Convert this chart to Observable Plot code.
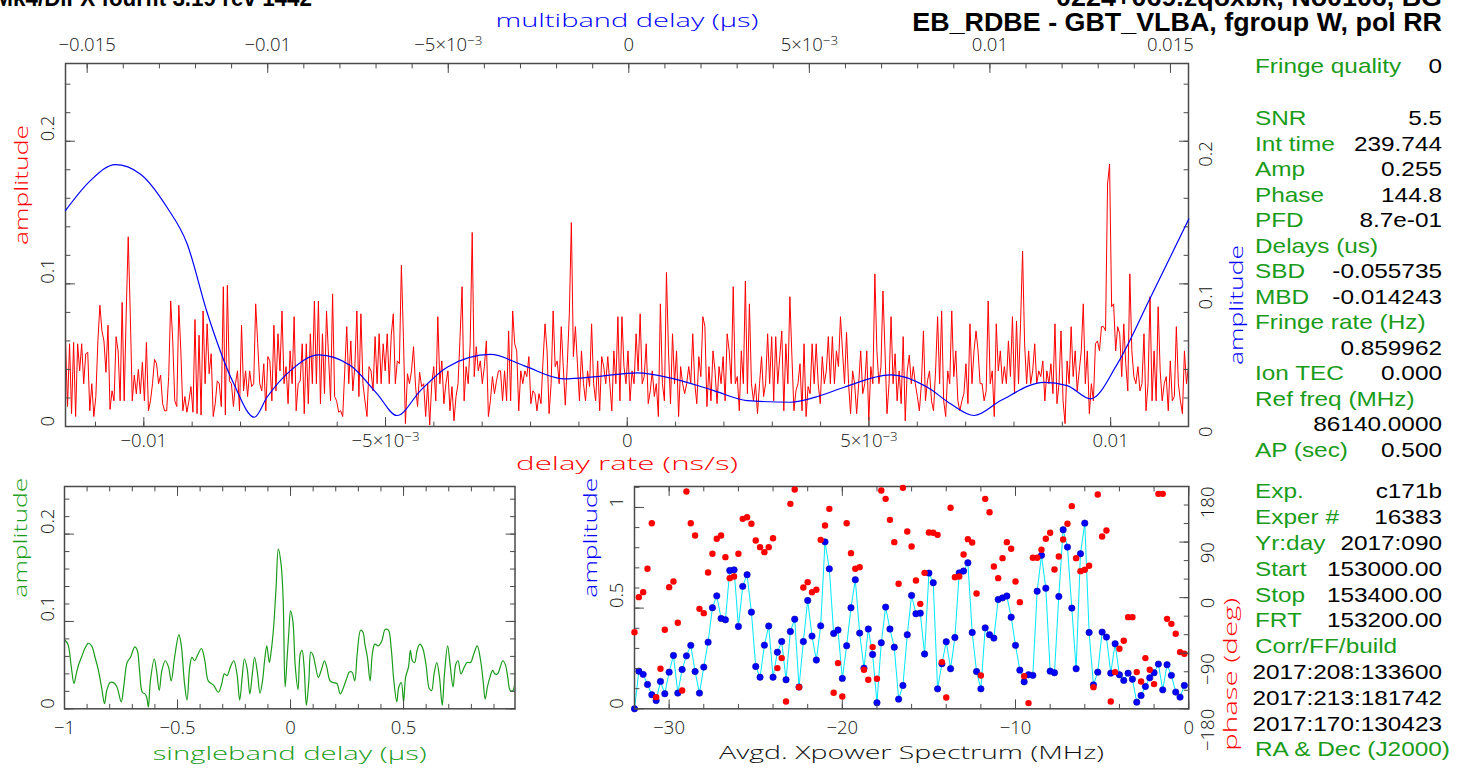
<!DOCTYPE html>
<html><head><meta charset="utf-8">
<script src="https://cdn.jsdelivr.net/npm/d3@7"></script>
<script src="https://cdn.jsdelivr.net/npm/@observablehq/plot@0.6"></script>
<style>
html,body{margin:0;padding:0;background:#fff;}
#wrap{position:relative;width:1462px;height:769px;overflow:hidden;background:#fff;}
</style></head><body><div id="wrap"></div>
<script>
// ---------------- DATA ----------------
// delay-rate spectrum amplitude (red), evenly sampled across the delay-rate window
const rateDomain = [-0.01162, 0.01161];
const redAmp = [
.060,.014,.058,.009,.059,.007,.058,.039,.058,.030,.051,.052,.011,.030,.007,.021,.060,.085,.067,.060,
.038,.071,.012,.025,.018,.063,.053,.018,.087,.018,.079,.133,.079,.018,.036,.023,.040,.023,.045,.018,
.059,.011,.018,.030,.047,.044,.030,.036,.016,.011,.011,.035,.088,.060,.018,.014,.085,.053,.011,.021,
.010,.018,.028,.010,.075,.009,.064,.008,.081,.030,.072,.037,.051,.007,.016,.032,.030,.014,.098,.008,
.099,.032,.030,.014,.030,.039,.011,.071,.025,.039,.021,.039,.028,.030,.086,.058,.030,.025,.044,.011,
.049,.046,.018,.071,.025,.065,.039,.081,.030,.042,.016,.053,.030,.077,.011,.030,.032,.058,.009,.058,
.016,.065,.030,.088,.030,.088,.016,.065,.023,.081,.049,.018,.093,.021,.018,.010,.011,.007,.039,.070,
.030,.060,.025,.042,.081,.021,.079,.030,.018,.007,.042,.039,.025,.063,.030,.065,.030,.058,.039,.065,
.030,.064,.079,.030,.046,.044,.113,.063,.002,.037,.030,.039,.056,.028,.014,.038,.028,.030,.007,.030,
.001,.030,.042,.018,.077,.030,.046,.016,.030,.039,.011,.028,.004,.021,.030,.063,.098,.018,.042,.030,
.058,.136,.035,.056,.039,.046,.030,.042,.060,.007,.018,.035,.023,.032,.039,.039,.018,.039,.018,.067,
.018,.081,.058,.053,.011,.039,.030,.039,.035,.049,.016,.025,.023,.011,.023,.016,.046,.072,.053,.009,
.030,.081,.042,.046,.030,.070,.042,.015,.044,.079,.143,.049,.070,.044,.018,.053,.030,.018,.039,.028,
.072,.030,.018,.046,.011,.049,.042,.030,.049,.030,.011,.053,.030,.077,.018,.077,.042,.030,.053,.018,
.039,.030,.065,.039,.079,.030,.035,.058,.016,.025,.039,.021,.030,.007,.086,.030,.018,.108,.053,.016,
.065,.030,.053,.007,.042,.030,.023,.030,.042,.030,.065,.030,.016,.049,.035,.077,.070,.014,.042,.018,
.053,.039,.016,.042,.030,.049,.018,.065,.053,.030,.098,.030,.035,.011,.053,.030,.102,.023,.086,.030,
.018,.030,.009,.030,.049,.021,.030,.065,.030,.063,.018,.063,.030,.049,.067,.011,.058,.030,.091,.049,
.011,.025,.030,.044,.011,.058,.007,.028,.023,.058,.030,.058,
.030,.016,.049,.030,.039,.063,.030,.063,.030,.053,.042,.077,.053,.030,.066,.030,.009,.039,.030,.009,
.030,.053,.023,.030,.053,.004,.042,.030,.107,.053,.030,.042,.095,.053,.009,.030,.077,.030,.051,.018,
.039,.016,.063,.004,.039,.050,.030,.042,.030,.021,.011,.030,.067,.018,.032,.039,.018,.011,.039,.077,
.030,.081,.018,.007,.039,.030,.081,.035,.053,.018,.011,.018,.023,.044,.016,.072,.030,.053,.067,.053,
.030,.030,.018,.025,.088,.030,.039,.007,.072,.039,.053,.030,.042,.030,.060,.035,.077,.023,.074,.030,
.072,.123,.058,.030,.053,.030,.039,.058,.030,.039,.035,.046,.018,.039,.030,.044,.023,.072,.016,.030,
.067,.018,.002,.046,.030,.070,.035,.053,.025,.039,.053,.086,.030,.053,.009,.030,.018,.058,.060,.053,
.070,.070,.067,.170,.184,.084,.086,.053,.070,.065,.035,.072,.044,.025,.107,.053,.035,.030,.042,.025,
.030,.065,.011,.030,.091,.018,.053,.018,.084,.039,.018,.030,.035,.011,.046,.018,.021,.070,.030,.018,
.009,.053,.030,.042];

// multiband delay function (blue)
const mbdDelay = [-0.01560,-0.01491,-0.01422,-0.01353,-0.01279,-0.01223,-0.01168,-0.01094,-0.01037,-0.01002,
-0.00937,-0.00859,-0.00771,-0.00697,-0.00642,-0.00577,-0.00503,-0.00383,-0.00291,-0.00180,-0.00088,
0.00023,0.00125,0.00235,0.00328,0.00448,0.00531,0.00596,0.00725,0.00827,0.00891,0.00956,0.01030,
0.01150,0.01214,0.01279,0.01353,0.01445,0.01551];
const mbdAmp = [0.1514,0.1724,0.1836,0.1771,0.1537,0.1280,0.0801,0.0299,0.0065,0.0205,
0.0392,0.0502,0.0427,0.0229,0.0077,0.0252,0.0416,0.0505,0.0427,0.0334,0.0350,
0.0376,0.0334,0.0252,0.0182,0.0170,0.0217,0.0275,0.0362,0.0275,0.0159,0.0077,0.0182,
0.0310,0.0287,0.0194,0.0439,0.0906,0.1455];

// singleband delay function (green)
const sbdDelay = [-1.000,-0.985,-0.970,-0.958,-0.948,-0.937,-0.925,-0.910,-0.895,-0.880,-0.865,-0.850,-0.835,-0.823,-0.813,-0.798,-0.783,-0.768,-0.749,-0.738,
-0.723,-0.708,-0.689,-0.678,-0.668,-0.656,-0.644,-0.636,-0.629,-0.620,-0.603,-0.593,-0.581,-0.569,-0.554,-0.540,-0.528,-0.513,-0.494,-0.484,
-0.469,-0.458,-0.446,-0.436,-0.424,-0.412,-0.394,-0.379,-0.364,-0.341,-0.319,-0.304,-0.293,-0.281,-0.266,-0.251,-0.237,-0.225,-0.214,-0.204,
-0.192,-0.180,-0.169,-0.159,-0.147,-0.135,-0.124,-0.114,-0.105,-0.094,-0.087,-0.075,-0.064,-0.054,-0.042,-0.033,-0.024,-0.015,-0.007,0.000,
0.010,0.021,0.033,0.043,0.051,0.060,0.070,0.081,0.090,0.100,0.111,0.123,0.138,0.150,0.160,0.175,0.190,0.205,0.220,0.235,
0.250,0.260,0.272,0.284,0.295,0.310,0.320,0.329,0.340,0.352,0.362,0.373,0.389,0.404,0.419,0.433,0.445,0.457,0.470,0.479,
0.490,0.500,0.509,0.522,0.530,0.539,0.549,0.560,0.572,0.584,0.599,0.614,0.624,0.635,0.647,0.659,0.671,0.681,0.695,0.707,
0.719,0.731,0.741,0.754,0.769,0.781,0.796,0.811,0.826,0.841,0.852,0.861,0.871,0.882,0.894,0.904,0.916,0.928,0.939,0.951,
0.961,0.972,0.984,0.993];
const sbdAmp = [.079,.074,.048,.029,.040,.051,.059,.069,.075,.072,.059,.044,.023,.006,.021,.030,.030,.025,.008,.025,
.053,.059,.071,.067,.044,.019,.017,.013,.002,.032,.057,.044,.021,.044,.055,.048,.032,.059,.085,.074,
.029,.010,.048,.059,.055,.061,.069,.055,.032,.027,.019,.029,.040,.038,.048,.055,.040,.010,.036,.057,
.046,.017,.040,.059,.042,.018,.032,.057,.072,.053,.063,.093,.139,.183,.166,.128,.025,.059,.090,.112,
.101,.048,.022,.063,.067,.048,.004,.032,.065,.061,.048,.036,.046,.055,.048,.032,.030,.029,.017,.025,
.036,.042,.042,.032,.063,.090,.088,.074,.059,.032,.063,.074,.072,.078,.091,.090,.070,.032,.008,.025,
.030,.008,.036,.048,.067,.055,.053,.067,.074,.070,.051,.023,.021,.040,.053,.036,.004,.040,.072,.048,
.025,.051,.055,.040,.048,.053,.053,.063,.072,.055,.032,.011,.025,.036,.044,.040,.040,.048,.055,.050,
.036,.021,.021,.055];

// averaged cross-power spectrum: 128 channels of 0.25 MHz starting at -32 MHz
const specStart = -32, specStep = 0.25;
const specAmp = [0.000,0.187,0.171,0.121,0.070,0.041,0.136,0.075,0.182,0.265,
0.078,0.195,0.263,0.315,0.185,0.078,0.207,0.331,0.502,0.561,
0.449,0.442,0.687,0.690,0.409,0.608,0.666,0.480,0.210,0.157,
0.316,0.411,0.157,0.281,0.334,0.144,0.384,0.445,0.108,0.334,
0.538,0.361,0.242,0.412,0.829,0.695,0.374,0.391,0.151,0.313,
0.502,0.641,0.376,0.202,0.396,0.270,0.030,0.328,0.505,0.396,
0.306,0.048,0.116,0.368,0.563,0.472,0.475,0.272,0.674,0.626,
0.099,0.224,0.333,0.199,0.354,0.675,0.684,0.725,0.379,0.185,
0.099,0.402,0.368,0.351,0.543,0.551,0.560,0.455,0.315,0.192,
0.134,0.169,0.166,0.584,0.762,0.599,0.187,0.179,0.558,0.889,
0.803,0.500,0.199,0.770,0.922,0.379,0.119,0.182,0.381,0.356,
0.177,0.323,0.169,0.141,0.177,0.147,0.033,0.066,0.111,0.154,
0.179,0.222,0.094,0.219,0.166,0.083,0.058,0.116];
const specPhase = [-55.9,0.8,8.9,46.7,120.6,-161.1,-115.2,-52.1,17.0,26.2,
-40.7,-150.3,171.9,120.6,100.7,-18.1,-25.1,40.8,71.0,95.3,
100.7,65.6,31.6,34.3,71.0,127.6,130.3,119.6,92.6,81.8,
73.7,81.8,96.3,-114.1,-97.9,-168.1,151.9,175.1,-144.9,16.5,
25.1,8.9,12.7,93.6,116.9,143.8,-154.1,-106.0,-160.0,120.6,
72.1,46.7,49.4,-116.8,-133.0,-80.1,-131.4,173.5,160.0,126.0,
89.9,22.4,177.8,107.1,82.9,27.8,-10.0,40.2,105.5,105.0,
101.7,-104.4,-161.6,145.5,33.2,34.3,69.9,94.7,89.3,6.8,
-126.0,160.0,138.4,50.5,31.6,64.0,89.9,79.1,26.2,-7.3,
-127.1,-170.8,64.5,64.5,77.5,95.3,105.0,45.6,66.7,94.2,
119.6,148.2,64.0,42.9,45.1,51.6,-144.9,167.0,99.0,108.8,
-168.1,-120.6,-82.8,-69.9,-31.6,-31.6,-120.6,-135.7,-97.9,-116.8,
-140.0,168.1,168.1,-34.3,-42.4,-58.5,-88.2,-90.9];

// tick values and labels
const rateTicks = [-0.01, -0.005, 0, 0.005, 0.01];
const rateTickLabels = ["−0.01", "−5×10^−3", "0", "5×10^−3", "0.01"];
const mbdTicks = [-0.015, -0.01, -0.005, 0, 0.005, 0.01, 0.015];
const mbdTickLabels = ["−0.015", "−0.01", "−5×10^−3", "0", "5×10^−3", "0.01", "0.015"];
const ampTicks = [0, 0.1, 0.2];
const ampTickLabels = ["0", "0.1", "0.2"];
const sbdTicks = [-1, -0.5, 0, 0.5];
const sbdTickLabels = ["−1", "−0.5", "0", "0.5"];
const freqTicks = [-30, -20, -10, 0];
const freqTickLabels = ["−30", "−20", "−10", "0"];
const specAmpTicks = [0, 0.5, 1];
const specAmpTickLabels = ["0", "0.5", "1"];
const phaseTicks = [-180, -90, 0, 90, 180];
const phaseTickLabels = ["−180", "−90", "0", "90", "180"];

// information panel
const panelLabels = ["Fringe quality","SNR","Int time","Amp","Phase","PFD","Delays (us)","SBD","MBD","Fringe rate (Hz)","","Ion TEC","Ref freq (MHz)","","AP (sec)",
  "Exp.","Exper #","Yr:day","Start","Stop","FRT","Corr/FF/build","","","","RA & Dec (J2000)"];
const panelValues = ["0","5.5","239.744","0.255","144.8","8.7e-01","","-0.055735","-0.014243","","0.859962","0.000","","86140.0000","0.500",
  "c171b","16383","2017:090","153000.00","153400.00","153200.00","","2017:208:133600","2017:213:181742","2017:170:130423",""];
const headerLeft = "Mk4/DiFX fourfit 3.19 rev 1442";
const headerRight1 = "0224+069.zqoxbk, No0106, BG";
const headerRight2 = "EB_RDBE - GBT_VLBA, fgroup W, pol RR";

// ---------------- LAYOUT / STYLE ----------------
const AX = "#4a4a4a", TXT = "#111", RED = "#ff0000", BLUE = "#0000ff", CYAN = "#00e8ff", GREEN = "#1a9c1a";
const FP = "Liberation Sans, Arial, sans-serif";
const FT = "Open Sans, Liberation Sans, sans-serif";
const ampDomain = [0, 0.2545];
const wrap = document.getElementById("wrap");
const titleLen = {"multiband delay (µs)": 263, "delay rate (ns/s)": 222, "amplitude": 120,
  "singleband delay (µs)": 274, "Avgd. Xpower Spectrum (MHz)": 385, "phase (deg)": 153};

const tickShape = {draw(ctx, l) { ctx.moveTo(0, 0); ctx.lineTo(0, -l); }};
function edgeTicks(values, side, len) {
  const rot = {bottom: 0, top: 180, left: 90, right: -90}[side];
  const ch = (side === "bottom" || side === "top") ? {x: d => d} : {y: d => d};
  return Plot.vector(values, {...ch, frameAnchor: side, rotate: rot, length: len, anchor: "start",
    shape: tickShape, stroke: AX, strokeWidth: 1});
}
function bothTicks(minor, major, side) { return [edgeTicks(minor, side, 4.5), edgeTicks(major, side, 9)]; }
function xLabels(values, labels, side, dy) {
  return Plot.text(values, {x: d => d, text: (d, i) => labels[i], frameAnchor: side, dy,
    lineAnchor: side === "bottom" ? "top" : "bottom", fontFamily: FT, fontWeight: 300, fontSize: 18.5, fill: TXT});
}
function yLabels(values, labels, side, dx) {
  return Plot.text(values, {y: d => d, text: (d, i) => labels[i], frameAnchor: side, dx, rotate: -90,
    lineAnchor: side === "left" ? "bottom" : "top", fontFamily: FT, fontWeight: 300, fontSize: 18.5, fill: TXT});
}
function axisTitle(str, side, off, color) {
  const vert = side === "left" || side === "right";
  return Plot.text([str], {frameAnchor: side, text: d => d, dx: vert ? off : 0, dy: vert ? 0 : off,
    rotate: vert ? -90 : 0, lineAnchor: "bottom", fill: color, fontFamily: FT, fontWeight: 300, fontSize: 18.5});
}
function place(svg, left, top) {
  svg.style.position = "absolute"; svg.style.left = left + "px"; svg.style.top = top + "px";
  svg.style.background = "transparent"; svg.style.maxWidth = "none"; svg.style.overflow = "visible";
  svg.querySelectorAll("text").forEach(t => {
    const s = t.textContent;
    const L = titleLen[s];
    if (L) { t.setAttribute("textLength", L); t.setAttribute("lengthAdjust", "spacingAndGlyphs"); }
    if (s.includes("^")) {            // PGPLOT-style exponent, e.g. 5×10^−3
      const [base, exp] = s.split("^");
      t.textContent = base;
      const sup = document.createElementNS("http://www.w3.org/2000/svg", "tspan");
      sup.setAttribute("dy", "-0.42em"); sup.setAttribute("font-size", "0.72em");
      sup.textContent = exp;
      t.appendChild(sup);
    }
  });
  wrap.appendChild(svg);
}
const frame = () => Plot.frame({stroke: AX, strokeWidth: 1.5});

// tick grids
const rateMinor = d3.range(-11, 12).map(i => i / 1000);
const mbdMinor = d3.range(-15, 16).map(i => i / 1000);
const ampMinor = d3.range(0, 13).map(i => i * 0.02);
const sbdMinor = d3.range(-10, 10).map(i => i / 10);
const freqMinor = d3.range(-32, 1, 2);
const specAmpMinor = d3.range(0, 12).map(i => i / 10);
const phaseMinor = d3.range(-180, 181, 30);

// ---------------- MAIN PANEL ----------------
const redData = redAmp.map((a, i) => ({rate: rateDomain[0] + i * (rateDomain[1] - rateDomain[0]) / (redAmp.length - 1), amp: a}));
const blueData = mbdDelay.map((m, i) => ({mbd: m, amp: mbdAmp[i]}));
const mainOpts = {width: 1240, height: 480, marginLeft: 65, marginRight: 52, marginTop: 63, marginBottom: 54};

place(Plot.plot({...mainOpts,
  x: {domain: rateDomain, axis: null}, y: {domain: ampDomain, axis: null},
  marks: [
    Plot.line(redData, {x: "rate", y: "amp", stroke: RED, strokeWidth: 1}),
    ...bothTicks(rateMinor, rateTicks, "bottom"),
    ...bothTicks(ampMinor, ampTicks, "left"),
    ...bothTicks(ampMinor, ampTicks, "right"),
    xLabels(rateTicks, rateTickLabels, "bottom", 7),
    yLabels(ampTicks, ampTickLabels, "left", -12),
    yLabels(ampTicks, ampTickLabels, "right", 10),
    axisTitle("delay rate (ns/s)", "bottom", 43, RED),
    axisTitle("amplitude", "left", -38, RED),
    frame()
  ]}), 0, 0);

place(Plot.plot({...mainOpts,
  x: {domain: [-0.0156, 0.0155], axis: null}, y: {domain: ampDomain, axis: null},
  marks: [
    Plot.line(blueData, {x: "mbd", y: "amp", stroke: BLUE, strokeWidth: 1.2, curve: "monotone-x"}),
    ...bothTicks(mbdMinor, mbdTicks, "top"),
    xLabels(mbdTicks, mbdTickLabels, "top", -13),
    axisTitle("multiband delay (µs)", "top", -36.3, BLUE),
    axisTitle("amplitude", "right", 54, BLUE)
  ]}), 0, 0);

// ---------------- SINGLEBAND DELAY ----------------
const sbdData = sbdDelay.map((s, i) => ({sbd: s, amp: sbdAmp[i]}));
place(Plot.plot({width: 540, height: 299, marginLeft: 64, marginRight: 25.5, marginTop: 16, marginBottom: 60.7,
  x: {domain: [-1, 0.993], axis: null}, y: {domain: ampDomain, axis: null},
  marks: [
    Plot.line(sbdData, {x: "sbd", y: "amp", stroke: GREEN, strokeWidth: 1.2, curve: "catmull-rom", clip: true}),
    ...bothTicks(sbdMinor, sbdTicks, "bottom"),
    ...bothTicks(sbdMinor, sbdTicks, "top"),
    ...bothTicks(ampMinor, ampTicks, "left"),
    ...bothTicks(ampMinor, ampTicks, "right"),
    xLabels(sbdTicks, sbdTickLabels, "bottom", 11.7),
    yLabels(ampTicks, ampTickLabels, "left", -10.2),
    axisTitle("singleband delay (µs)", "bottom", 51, GREEN),
    axisTitle("amplitude", "left", -37.2, GREEN),
    frame()
  ]}), 0, 470);

// ---------------- CROSS-POWER SPECTRUM ----------------
const specData = specAmp.map((a, i) => ({f: specStart + i * specStep, amp: a, ph: specPhase[i]}));
const specOpts = {width: 680, height: 299, marginLeft: 74, marginRight: 51.8, marginTop: 16, marginBottom: 60.7};
place(Plot.plot({...specOpts,
  x: {domain: [-32, 0], axis: null}, y: {domain: [0, 1.104], axis: null},
  marks: [
    Plot.line(specData, {x: "f", y: "amp", stroke: CYAN, strokeWidth: 1}),
    Plot.dot(specData, {x: "f", y: "amp", r: 3.2, fill: BLUE, stroke: "#0000a8", strokeWidth: 0.6}),
    ...bothTicks(freqMinor, freqTicks, "bottom"),
    ...bothTicks(freqMinor, freqTicks, "top"),
    ...bothTicks(specAmpMinor, specAmpTicks, "left"),
    xLabels(freqTicks, freqTickLabels, "bottom", 11.7),
    yLabels(specAmpTicks, specAmpTickLabels, "left", -11.3),
    axisTitle("Avgd. Xpower Spectrum (MHz)", "bottom", 50, TXT),
    axisTitle("amplitude", "left", -38, BLUE),
    frame()
  ]}), 560, 470);
place(Plot.plot({...specOpts,
  x: {domain: [-32, 0], axis: null}, y: {domain: [-180, 180], axis: null},
  marks: [
    Plot.dot(specData, {x: "f", y: "ph", r: 3.2, fill: RED}),
    ...bothTicks(phaseMinor, phaseTicks, "right"),
    yLabels(phaseTicks, phaseTickLabels, "right", 12),
    axisTitle("phase (deg)", "right", 48, RED)
  ]}), 560, 470);

// ---------------- TEXT PANEL & HEADER ----------------
const rowBase = [72.5,125,150.5,176,201.5,227,252.5,278,303.5,329,354.5,380,405.5,431,456.5,
  498.3,524.1,549.9,575.7,601.5,627.3,653.1,678.9,704.7,730.5,756.3];
const txt = d3.select(wrap).append("svg").attr("width", 1462).attr("height", 769)
  .style("position", "absolute").style("left", 0).style("top", 0).style("pointer-events", "none");
panelLabels.forEach((lab, i) => {
  if (lab) txt.append("text").attr("transform", `translate(1255,${rowBase[i]}) scale(1.16,1)`)
    .attr("font-family", FP).attr("font-size", 21).attr("fill", GREEN).text(lab);
  const v = panelValues[i];
  if (v) txt.append("text").attr("transform", `translate(1442,${rowBase[i]}) scale(1.16,1)`)
    .attr("text-anchor", "end").attr("font-family", FP).attr("font-size", 21).attr("fill", "#000").text(v);
});
txt.append("text").attr("transform", "translate(312,6) scale(0.975,1)").attr("text-anchor", "end").attr("font-family", FP)
  .attr("font-weight", "bold").attr("font-size", 23).attr("fill", "#000").text(headerLeft);
txt.append("text").attr("transform", "translate(1442,6) scale(1.075,1)").attr("text-anchor", "end").attr("font-family", FP)
  .attr("font-weight", "bold").attr("font-size", 25).attr("fill", "#000").text(headerRight1);
txt.append("text").attr("transform", "translate(1442,31) scale(1.075,1)").attr("text-anchor", "end").attr("font-family", FP)
  .attr("font-weight", "bold").attr("font-size", 25).attr("fill", "#000").text(headerRight2);
</script></body></html>
